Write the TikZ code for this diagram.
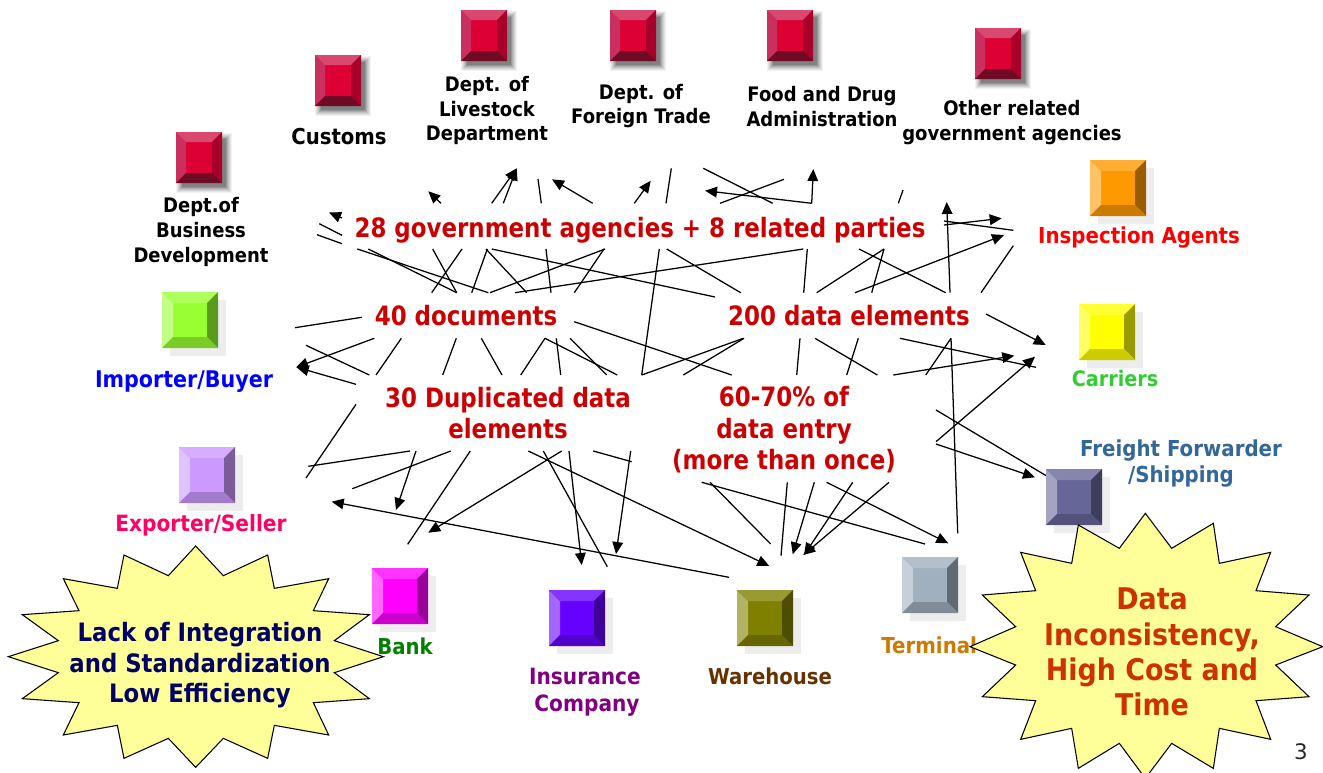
\documentclass[tikz,border=0pt]{standalone}
\usepackage{fontspec}
\usetikzlibrary{arrows.meta}
\setmainfont{DejaVu Sans}[FakeStretch=0.9]
\newfontfamily\plainfont{DejaVu Sans}
\newfontfamily\narrowfont{DejaVu Sans}[FakeStretch=0.86]
\definecolor{agency}{HTML}{DC0035}
\definecolor{agencytop}{HTML}{D9496F}
\definecolor{agencyleft}{HTML}{C9305F}
\definecolor{agencyright}{HTML}{A8002A}
\definecolor{agencybottom}{HTML}{6E0A24}
\definecolor{mainred}{HTML}{CC0000}
\definecolor{starfill}{HTML}{FFFF99}
\definecolor{inspectc}{HTML}{FF9900}
\definecolor{carrierc}{HTML}{FFFF00}
\definecolor{freightc}{HTML}{666699}
\definecolor{importc}{HTML}{99FF33}
\definecolor{exportc}{HTML}{CC99FF}
\definecolor{bankc}{HTML}{FF00FF}
\definecolor{insurec}{HTML}{6600FF}
\definecolor{housec}{HTML}{808000}
\definecolor{terminalc}{HTML}{A0B0BF}
\newcommand{\fs}[2]{\fontsize{#1}{#2}\selectfont\bfseries}
\newcommand{\bevelbox}[4]{%
  % name, x, y, colour : a 56px bevelled square with a pale tiled shadow
  \fill[black!7] (#2+8,#3+8) rectangle (#2+64,#3+64);
  \fill[#4] (#2,#3) rectangle (#2+56,#3+56);
  \fill[#4!60!white] (#2,#3) -- (#2+11,#3+11) -- (#2+11,#3+45) -- (#2,#3+56) -- cycle;
  \fill[#4!80!white] (#2,#3) -- (#2+56,#3) -- (#2+45,#3+11) -- (#2+11,#3+11) -- cycle;
  \fill[#4!60!black] (#2+56,#3) -- (#2+56,#3+56) -- (#2+45,#3+45) -- (#2+45,#3+11) -- cycle;
  \fill[#4!80!black] (#2,#3+56) -- (#2+56,#3+56) -- (#2+45,#3+45) -- (#2+11,#3+45) -- cycle;
  \node[inner sep=0,minimum size=42pt] (#1) at (#2+28,#3+28) {};
}
\newcommand{\agencybox}[3]{%
  % name, x, y : a 46x51px red bevelled block with a soft dark shadow
  \foreach \g/\o in {6/.05,5/.06,4/.07,3/.08,2/.1,1/.12,0/.14}
    \fill[black,opacity=\o] (#2+6-\g,#3+7-\g) rectangle (#2+50+\g,#3+55+\g);
  \fill[agency] (#2,#3) rectangle (#2+46,#3+51);
  \fill[agencyleft] (#2,#3) -- (#2+10,#3+10) -- (#2+10,#3+41) -- (#2,#3+51) -- cycle;
  \fill[agencytop] (#2,#3) -- (#2+46,#3) -- (#2+36,#3+10) -- (#2+10,#3+10) -- cycle;
  \fill[agencyright] (#2+46,#3) -- (#2+46,#3+51) -- (#2+36,#3+41) -- (#2+36,#3+10) -- cycle;
  \fill[agencybottom] (#2,#3+51) -- (#2+46,#3+51) -- (#2+36,#3+41) -- (#2+10,#3+41) -- cycle;
  \node[inner sep=0,minimum width=34.5pt,minimum height=38pt] (#1) at (#2+23,#3+25.5) {};
}
\tikzset{
  link/.style={line width=.95pt,black},
  arrowlink/.style={link,-{Triangle[length=9pt,width=8pt]}},
  lab/.style={inner sep=0,align=center},
  blacklab/.style={lab,font=\fs{15}{18.4},text=black},
  mainlab/.style={lab,font=\narrowfont\fs{20}{23.3},text=mainred},
  burst/.style={draw=black,fill=starfill,line width=.8pt,line join=miter},
}
\begin{document}
\begin{tikzpicture}[x=.75pt,y=-.75pt]
\useasboundingbox (0,0) rectangle (1323,772);
\fill[white] (0,0) rectangle (1323,772);

% plain connector pieces
\foreach \i/\ax/\ay/\bx/\by in {
 1/319.3/223.7/342/235.3, 2/317/234.7/342/243.7, 3/538/179/541.3/203.3,
 4/671.3/168.3/666/203.3, 5/357.3/249/488.3/292.7, 6/368.3/249/456.7/292.7,
 7/432.7/249/456.7/292.7, 8/462/249/431.7/292.7, 9/487.3/249/471.7/292.7,
 10/486/249/526.7/292.7, 11/546/249/551/292.7, 12/490/292.7/605/249,
 13/604/249/574.3/292.7, 14/659.3/249/641.7/375, 15/491.7/249/715/297,
 16/515/292.7/803.3/249, 17/666.7/249/740.7/292.7, 18/807.3/249/803.7/292.7,
 19/816.7/292.7/884/249, 20/884/249/871.7/292.7, 21/859/249/945.7/292.7,
 22/981/292.7/1013.3/245.7, 23/944/221/1013.3/230.3, 24/703.3/168.3/772.7/203.3,
 25/720/203.3/784/179.3, 26/898.3/203.3/903/190, 27/295/327.7/361.7/317.3,
 28/306/345.3/369.3/375, 29/401.3/338.3/376/375, 30/456.3/338.3/442.7/375,
 31/481.3/338.3/502/375, 32/545/338.3/520.7/375, 33/545/338.3/617.3/375,
 34/556.3/338.3/560.7/375, 35/570/338.3/606.7/375, 36/574.3/321.7/731.7/375,
 37/641.7/375/743.3/338.3, 38/683.3/375/744/338.3, 39/800/338.3/796.7/375,
 40/815/338.3/877.3/375, 41/858.3/338.3/846.7/375, 42/900/338.3/1036/367.3,
 43/925.7/375/951/338.3, 44/951/338.3/957.7/533.3, 45/936/410/1046.7/476,
 46/701.7/482.3/925/544, 47/710/482.3/770.7/544, 48/787.3/482.3/781/555.7,
 49/356/404.3/306/478, 50/308.3/466.3/410/451, 51/352.3/488.7/450.7/451,
 52/470.3/451/407.7/544.3, 53/543.3/451/607.3/566.7, 54/593.3/451/631.7/461.7}
{
  \coordinate (p\i a) at (\ax,\ay);
  \coordinate (p\i b) at (\bx,\by);
  \draw[link] (p\i a) -- (p\i b);
}
% connector pieces that end in an arrowhead
\foreach \i/\ax/\ay/\bx/\by in {
 1/342/218/329/212.5, 2/441/203.3/428.3/191.3, 3/491.7/203.3/516.7/168.3,
 4/503.3/203.3/516.7/168.3, 5/592.7/203.3/552/179.3, 6/634.3/203.3/650.7/180.7,
 7/855/292.7/1004/235, 8/950/292.7/946.7/202, 9/944/225/1001.7/218.3,
 10/811.7/203.3/705/190.7, 11/811.7/203.3/813.3/169, 12/374.3/338.3/296/367.3,
 13/356/384.3/296.7/367.3, 14/893.3/375/1014.3/355.7, 15/986/314/1045.7/345,
 16/936/441.7/1035/356.7, 17/936/444/1035/477.3, 18/826.7/482.3/948.3/543.3,
 19/814.3/482.3/792.7/554.3, 20/852.7/482.3/804/555, 21/889/482.3/803.3/555,
 22/528.3/451/769.3/566, 23/729/577.3/331.7/501.7, 24/416/451/396/510,
 25/561.7/451/428.3/532.7, 26/569/451/581.7/565, 27/630.7/451/616/554}
{
  \coordinate (q\i a) at (\ax,\ay);
  \coordinate (q\i b) at (\bx,\by);
  \draw[arrowlink] (q\i a) -- (q\i b);
}

% government agencies
\agencybox{bizbox}{176}{132}
\agencybox{customsbox}{315}{55}
\agencybox{livestockbox}{461}{10}
\agencybox{tradebox}{610}{10}
\agencybox{fdabox}{767}{10}
\agencybox{otherbox}{975}{28}
% related parties
\bevelbox{inspectbox}{1090}{160}{inspectc}
\bevelbox{carrierbox}{1079}{304}{carrierc}
\bevelbox{freightbox}{1046}{469}{freightc}
\bevelbox{importbox}{162}{292}{importc}
\bevelbox{exportbox}{179}{447}{exportc}
\bevelbox{bankbox}{372}{568}{bankc}
\bevelbox{insurebox}{549}{590}{insurec}
\bevelbox{housebox}{737}{590}{housec}
\bevelbox{terminalbox}{902}{557}{terminalc}

% labels
\node[blacklab] (biz) at (201,232) {Dept.of\\Business\\Development};
\node[lab,font=\fs{16.4}{18.4},text=black] (customs) at (339,137) {Customs};
\node[blacklab] (livestock) at (487,110.5) {Dept. of\\Livestock\\Department};
\node[blacklab] (trade) at (641,106) {Dept. of\\Foreign Trade};
\node[blacklab] (fda) at (822,106.5) {Food and Drug\\Administration};
\node[blacklab] (other) at (1012,122.5) {Other related\\government agencies};
\node[lab,font=\fs{16.5}{20},text=red] (inspect) at (1139,238) {Inspection Agents};
\node[lab,font=\fs{16}{20},text={rgb,255:red,51;green,204;blue,51}] (carrier) at (1115,379) {Carriers};
\node[lab,font=\fs{16.5}{20.2},text={rgb,255:red,51;green,102;blue,153}] (freight) at (1181,463.5) {Freight Forwarder\\/Shipping};
\node[lab,font=\fs{17.2}{20},text=blue] (import) at (184,382) {Importer/Buyer};
\node[lab,font=\fs{16.8}{20},text={rgb,255:red,255;green,0;blue,102}] (export) at (201,525) {Exporter/Seller};
\node[lab,font=\fs{16.4}{20},text={rgb,255:red,0;green,128;blue,0}] (bank) at (405,646) {Bank};
\node[lab,font=\fs{16.8}{20.2},text={rgb,255:red,128;green,0;blue,128}] (insure) at (585,692.5) {Insurance\\\hspace*{3pt}Company};
\node[lab,font=\fs{16.4}{20},text={rgb,255:red,102;green,51;blue,0}] (house) at (770,676) {Warehouse};
\node[lab,font=\fs{16.5}{20},text={rgb,255:red,204;green,122;blue,0},anchor=west] (terminal) at (881,645) {Terminal};

\node[mainlab] (agencies) at (640,230) {28 government agencies + 8 related parties};
\node[mainlab] (docs) at (466,316) {40 documents};
\node[mainlab] (elements) at (849,316) {200 data elements};
\node[mainlab] (dups) at (508,413.5) {30 Duplicated data\\elements};
\node[lab,font=\narrowfont\fs{20}{23.6},text=mainred] (entry) at (784,430) {60-70\% of\\data entry\\(more than once)};

% bursts
\draw[burst,shift={(0,540)},x=.25pt,y=-.25pt]
 (587,18)--(670,107)--(803,45)--(823,145)--(986,116)--(940,212)--(1108,224)--(1003,302)--(1150,350)--(1003,398)--(1108,476)--(940,488)--(986,585)--(823,556)--(803,655)--(670,595)--(587,682)--(505,595)--(372,655)--(352,556)--(190,585)--(237,488)--(67,476)--(175,398)--(25,350)--(175,302)--(67,224)--(237,212)--(190,116)--(352,145)--(372,45)--(505,107)--cycle;
\begin{scope}
\clip (0,0) rectangle (1323,772);
\draw[burst,shift={(960,450)},x=.25pt,y=-.25pt]
 (556,190)--(635,295)--(760,220)--(778,340)--(932,307)--(888,422)--(1047,435)--(947,530)--(1088,590)--(947,645)--(1047,740)--(888,752)--(932,868)--(778,835)--(760,955)--(635,880)--(556,985)--(478,880)--(355,955)--(335,835)--(182,868)--(227,752)--(67,740)--(167,645)--(30,590)--(167,530)--(67,435)--(227,422)--(182,307)--(335,340)--(355,225)--(478,295)--cycle;
\end{scope}
\node[lab,font=\fs{19}{22.9},text={rgb,255:red,0;green,0;blue,102}] (lack) at (200,665.5) {Lack of Integration\\and Standardization\\Low Efficiency};
\node[lab,font=\fs{22.4}{26.4},text={rgb,255:red,204;green,51;blue,0}] (incons) at (1152,652) {Data\\Inconsistency,\\High Cost and\\Time};
\node[lab,font=\plainfont\fontsize{16}{18}\selectfont,text=black!85] (page) at (1301,752) {3};
\end{tikzpicture}
\end{document}
